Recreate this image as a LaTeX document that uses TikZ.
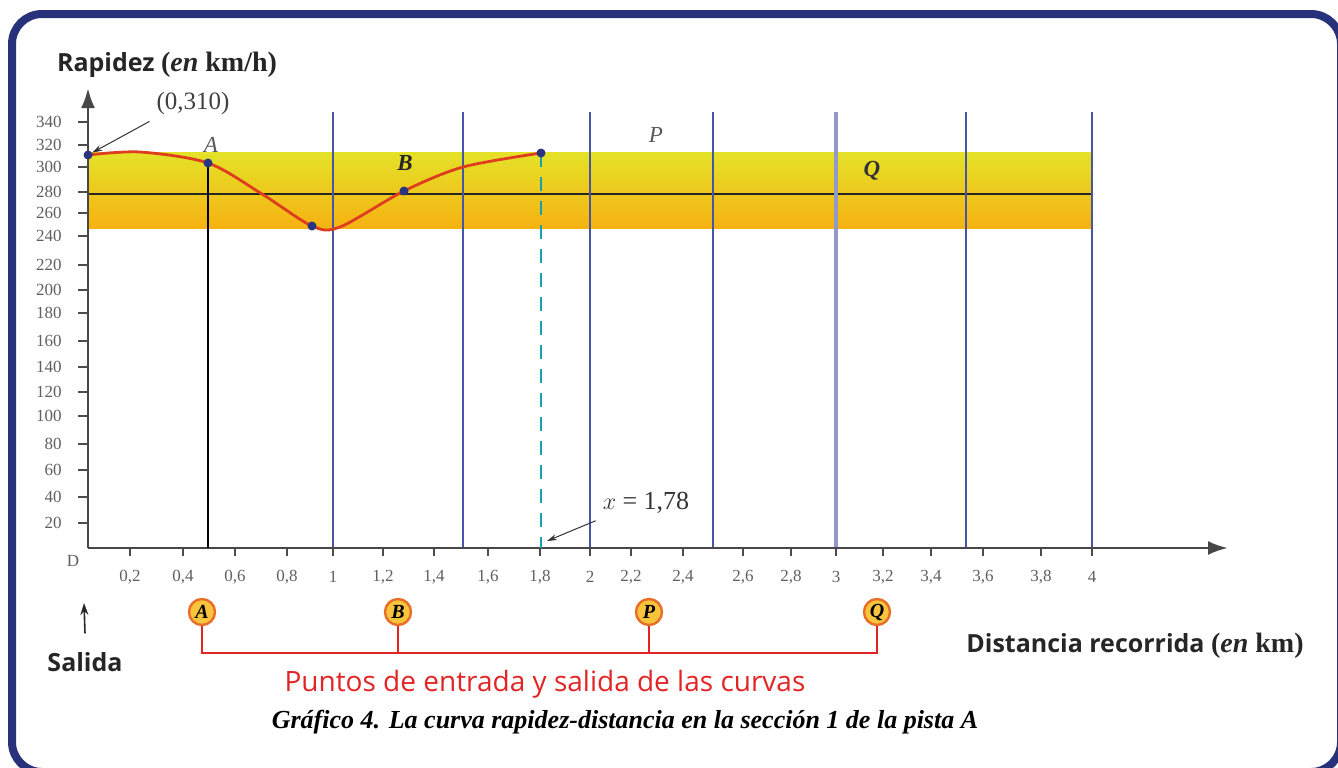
\documentclass[tikz,border=0pt]{standalone}
\usepackage{fontspec}
\setmainfont{Liberation Serif}
\setsansfont{Open Sans}
\usepackage{tikz}
\usetikzlibrary{arrows.meta,calc}

\definecolor{framenavy}{RGB}{39,50,122}
\definecolor{gridblue}{RGB}{70,85,165}
\definecolor{curvered}{RGB}{222,62,30}
\definecolor{dotnavy}{RGB}{42,52,128}
\definecolor{bandtop}{RGB}{228,226,40}
\definecolor{bandmid}{RGB}{245,210,20}
\definecolor{bandbot}{RGB}{246,178,18}
\definecolor{markfill}{RGB}{248,196,60}
\definecolor{markedge}{RGB}{232,110,40}
\definecolor{puntosred}{RGB}{226,36,36}
\definecolor{tickgray}{RGB}{95,95,95}
\definecolor{dashcyan}{RGB}{20,160,180}

\begin{document}
\begin{tikzpicture}[x=0.5pt,y=-0.5pt,
  ylab/.style={anchor=east,font=\fontsize{8.5}{9}\selectfont,text=tickgray,inner sep=0pt},
  xlab/.style={font=\fontsize{8.5}{9}\selectfont,text=tickgray,inner sep=0pt},
  gridline/.style={draw=gridblue,line width=0.8pt},
  dot/.style={circle,fill=dotnavy,inner sep=0pt,minimum size=4.5pt},
  marker/.style={circle,draw=markedge,line width=1.2pt,fill=markfill,inner sep=0pt,minimum size=13pt,font=\bfseries\itshape\fontsize{10}{10}\selectfont},
  axisline/.style={line width=1.4pt,draw=black!72,-{Latex[length=10pt,width=7pt]}},
  thinarrow/.style={line width=0.5pt,draw=black!80,-{Stealth[length=5pt,width=3pt]}},
  puntosline/.style={draw=puntosred,line width=0.7pt},
  axistitle/.style={font=\sffamily\bfseries\fontsize{12.5}{13}\selectfont,text=black!85}]

\def\AXX{88}
\def\AXY{548}

\useasboundingbox (0,0) rectangle (1338,767);

% frame
\draw[framenavy,line width=4pt,rounded corners=15pt] (12,14) rectangle (1341,772);

% band and reference line
\shade[top color=bandtop,middle color=bandmid,bottom color=bandbot] (\AXX,152) rectangle (1092,228);
\draw[black!85,line width=1pt] (\AXX,194) -- (1092,194);

% grid lines
\draw[gridline] (333,112) -- (333,\AXY);
\draw[gridline] (463,112) -- (463,\AXY);
\draw[gridline] (590,112) -- (590,\AXY);
\draw[gridline] (713,112) -- (713,\AXY);
\draw[draw=gridblue!60,line width=2pt] (836,112) -- (836,\AXY);
\draw[gridline] (966,112) -- (966,\AXY);
\draw[gridline] (1092,112) -- (1092,\AXY);

% axes
\coordinate (xo) at (\AXX,\AXY);
\coordinate (ytop) at (\AXX,88);
\coordinate (xend) at (1228,\AXY);
\draw[axisline] (xo) -- (ytop);
\draw[axisline] (xo) -- (xend);

% ticks
\draw[black!70,line width=0.6pt] (78,122) -- (\AXX,122) (78,145) -- (\AXX,145) (78,167) -- (\AXX,167) (78,192) -- (\AXX,192) (78,213) -- (\AXX,213) (78,236) -- (\AXX,236) (78,265) -- (\AXX,265) (78,290) -- (\AXX,290) (78,313) -- (\AXX,313) (78,341) -- (\AXX,341) (78,367) -- (\AXX,367) (78,392) -- (\AXX,392) (78,416) -- (\AXX,416) (78,444) -- (\AXX,444) (78,470) -- (\AXX,470) (78,497) -- (\AXX,497) (78,523) -- (\AXX,523);
\draw[black!70,line width=0.6pt] (130,\AXY) -- (130,556) (183,\AXY) -- (183,556) (235,\AXY) -- (235,556) (287,\AXY) -- (287,556) (333,\AXY) -- (333,556) (383,\AXY) -- (383,556) (434,\AXY) -- (434,556) (488,\AXY) -- (488,556) (540,\AXY) -- (540,556) (590,\AXY) -- (590,556) (631,\AXY) -- (631,556) (683,\AXY) -- (683,556) (743,\AXY) -- (743,556) (791,\AXY) -- (791,556) (836,\AXY) -- (836,556) (883,\AXY) -- (883,556) (931,\AXY) -- (931,556) (983,\AXY) -- (983,556) (1041,\AXY) -- (1041,556) (1092,\AXY) -- (1092,556);

% y labels
\node[ylab] (y340) at (62,122) {340};
\node[ylab] (y320) at (62,145) {320};
\node[ylab] (y300) at (62,167) {300};
\node[ylab] (y280) at (62,192) {280};
\node[ylab] (y260) at (62,213) {260};
\node[ylab] (y240) at (62,236) {240};
\node[ylab] (y220) at (62,265) {220};
\node[ylab] (y200) at (62,290) {200};
\node[ylab] (y180) at (62,313) {180};
\node[ylab] (y160) at (62,341) {160};
\node[ylab] (y140) at (62,367) {140};
\node[ylab] (y120) at (62,392) {120};
\node[ylab] (y100) at (62,416) {100};
\node[ylab] (y80) at (62,444) {80};
\node[ylab] (y60) at (62,470) {60};
\node[ylab] (y40) at (62,497) {40};
\node[ylab] (y20) at (62,523) {20};
\node[xlab] (x0) at (73,561) {D};

% x labels
\node[xlab] (x02) at (130,577) {0,2};
\node[xlab] (x04) at (183,577) {0,4};
\node[xlab] (x06) at (235,577) {0,6};
\node[xlab] (x08) at (287,577) {0,8};
\node[xlab] (x10) at (333,577) {1};
\node[xlab] (x12) at (383,577) {1,2};
\node[xlab] (x14) at (434,577) {1,4};
\node[xlab] (x16) at (488,577) {1,6};
\node[xlab] (x18) at (540,577) {1,8};
\node[xlab] (x20) at (590,577) {2};
\node[xlab] (x22) at (631,577) {2,2};
\node[xlab] (x24) at (683,577) {2,4};
\node[xlab] (x26) at (743,577) {2,6};
\node[xlab] (x28) at (791,577) {2,8};
\node[xlab] (x30) at (836,577) {3};
\node[xlab] (x32) at (883,577) {3,2};
\node[xlab] (x34) at (931,577) {3,4};
\node[xlab] (x36) at (983,577) {3,6};
\node[xlab] (x38) at (1041,577) {3,8};
\node[xlab] (x40) at (1092,577) {4};

% speed curve
\coordinate (c0) at (88,155);
\coordinate (c1) at (140,152);
\coordinate (cA) at (208,163);
\coordinate (c2) at (262,194);
\coordinate (cM) at (312,226);
\coordinate (c3) at (340,227);
\coordinate (cB) at (404,191);
\coordinate (c4) at (463,167);
\coordinate (cE) at (541,153);
\draw[black,line width=1pt] (cA) -- (cA |- xo);
\draw[dashcyan,line width=1pt,dash pattern=on 7pt off 5pt] (cE) -- (cE |- xo);
\draw[curvered,line width=1.4pt] plot[smooth,tension=0.5] coordinates {(c0) (c1) (cA) (c2) (cM) (c3) (cB) (c4) (cE)};
\node[dot] (p0) at (c0) {};
\node[dot] (pA) at (cA) {};
\node[dot] (pM) at (cM) {};
\node[dot] (pB) at (cB) {};
\node[dot] (pE) at (cE) {};

% point names
\node[font=\itshape\fontsize{11.5}{12}\selectfont,text=black!65] (nA) at (211,145) {A};
\node[font=\bfseries\itshape\fontsize{11.5}{12}\selectfont,text=black!85] (nB) at (405,163) {B};
\node[font=\itshape\fontsize{11.5}{12}\selectfont,text=black!65] (nP) at (656,135) {P};
\node[font=\bfseries\itshape\fontsize{11.5}{12}\selectfont,text=black!80] (nQ) at (872,171) {Q};

% callouts
\node[font=\fontsize{12.5}{12}\selectfont,text=black!75] (lbl0) at (193,103) {(0,310)};
\draw[thinarrow] (lbl0.south west) -- (p0);
\node[font=\fontsize{13}{13}\selectfont,text=black!80] (lblx) at (646,503) {$x$ = 1,78};
\coordinate (c178) at (547,541);
\draw[thinarrow] (lblx.south west) -- (c178);

% axis titles
\node[axistitle] (ytitle) at (167,65) {Rapidez {\rmfamily\fontsize{14}{14}\selectfont(\textit{en} km/h)}};
\node[axistitle] (xtitle) at (1135,646) {Distancia recorrida {\rmfamily\fontsize{14}{14}\selectfont(\textit{en} km)}};
\node[axistitle] (sal) at (85,662) {Salida};
\coordinate (salpt) at (84,603);
\draw[line width=0.8pt,draw=black!85,-{Stealth[length=6pt,width=4pt]}] ([yshift=6pt]sal.north) -- (salpt);

% entry and exit points
\node[marker] (mA) at (202,612) {A};
\node[marker] (mB) at (398,612) {B};
\node[marker] (mP) at (649,612) {P};
\node[marker] (mQ) at (877,612) {Q};
\coordinate (mbase) at (540,653);
\draw[puntosline] (mA) -- (mA |- mbase) -| (mQ);
\draw[puntosline] (mB) -- (mB |- mbase);
\draw[puntosline] (mP) -- (mP |- mbase);
\node[font=\sffamily\fontsize{14}{14}\selectfont,text=puntosred] (puntos) at (545,684) {Puntos de entrada y salida de las curvas};

% caption
\node[font=\bfseries\itshape\fontsize{13}{13}\selectfont] (caption) at (625,722) {Gráfico 4. La curva rapidez-distancia en la sección 1 de la pista A};

\end{tikzpicture}
\end{document}
